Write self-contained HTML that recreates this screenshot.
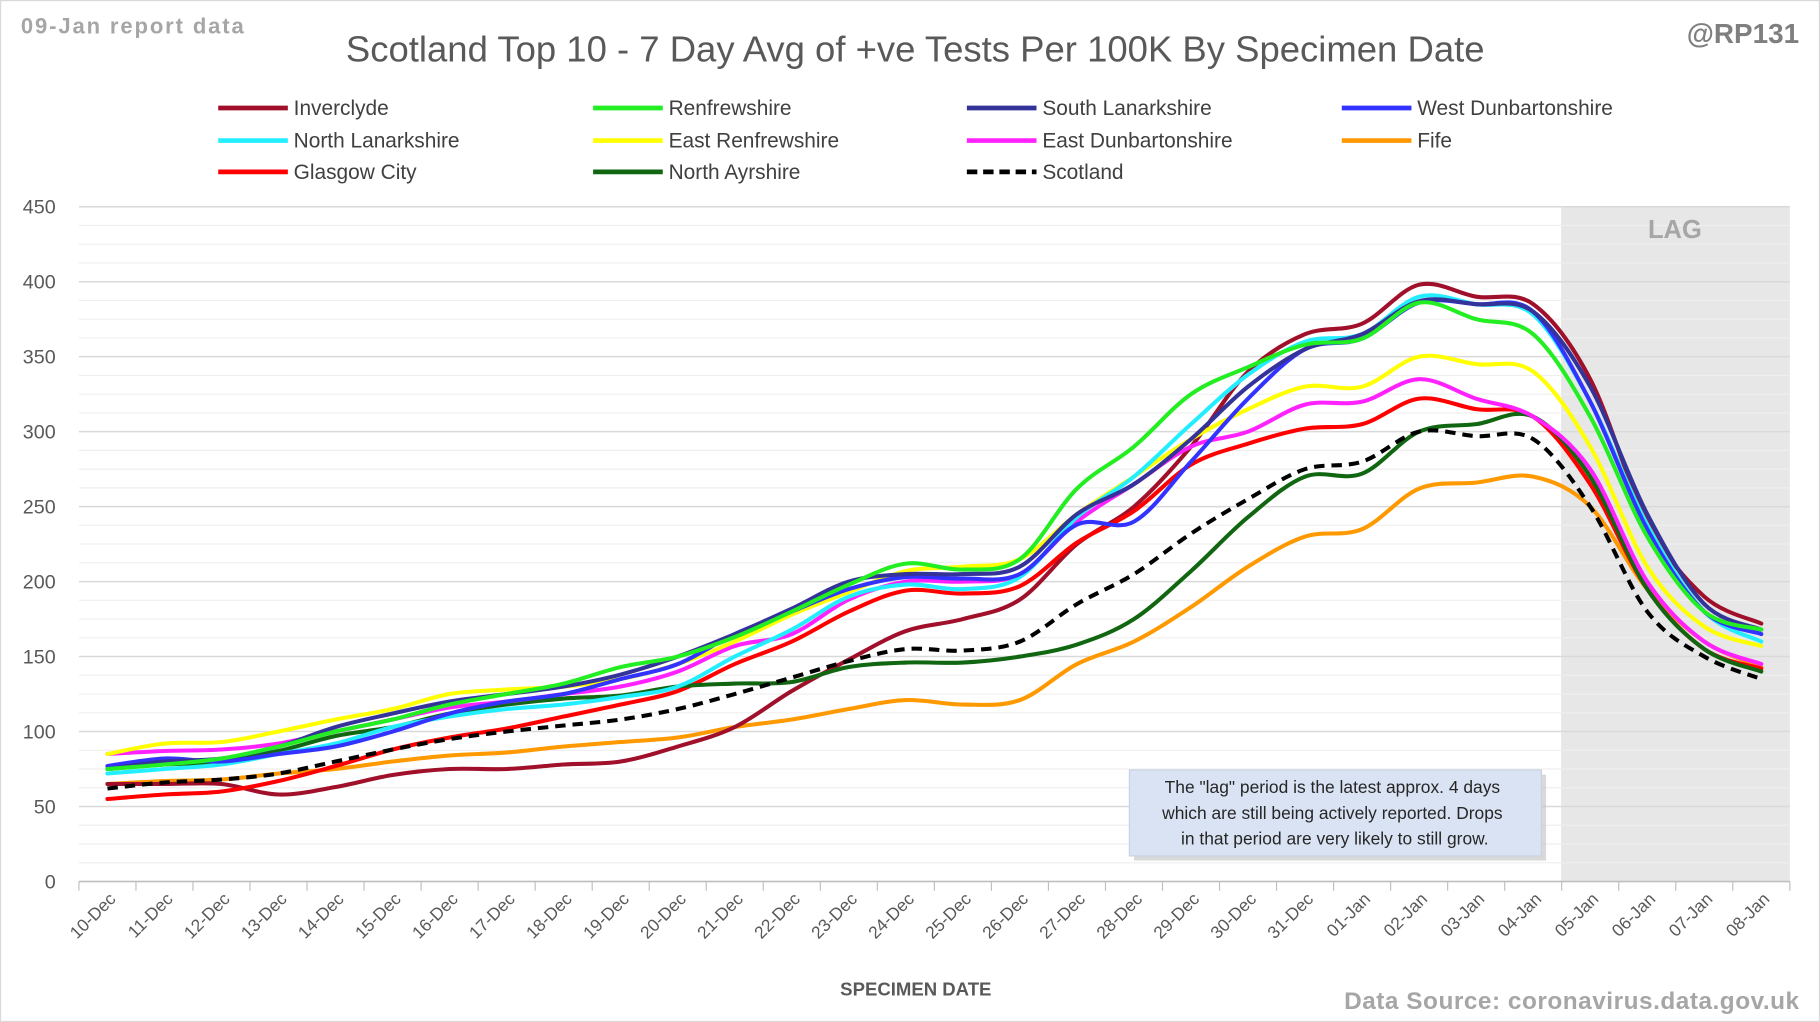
<!DOCTYPE html>
<html><head><meta charset="utf-8"><style>
html,body{margin:0;padding:0;background:#fff}
svg{display:block}
text{font-family:"Liberation Sans",sans-serif}
</style></head><body>
<svg id="s" width="1820" height="1022" viewBox="0 0 1568 880" preserveAspectRatio="none" xmlns="http://www.w3.org/2000/svg">
<rect x="0.5" y="0.5" width="1567" height="879" fill="#fff" stroke="#d9d9d9"/>
<rect x="1345" y="178" width="197" height="581" fill="#e7e7e7"/>
<g id="grid"></g>
<text x="1443" y="205" text-anchor="middle" font-size="22" font-weight="bold" fill="#a6a6a6">LAG</text>
<text x="18" y="29" font-size="19" font-weight="bold" fill="#a6a6a6" textLength="192">09-Jan report data</text>
<text x="298" y="53" font-size="31" fill="#595959" textLength="981" lengthAdjust="spacingAndGlyphs">Scotland Top 10 - 7 Day Avg of +ve Tests Per 100K By Specimen Date</text>
<text x="1550" y="37" text-anchor="end" font-size="24" font-weight="bold" fill="#7f7f7f">@RP131</text>
<g id="legend" font-size="18" fill="#404040"></g>
<g id="ylab" font-size="17" fill="#595959" text-anchor="end"></g>
<g id="xlab" font-size="15" fill="#595959" text-anchor="end"></g>
<g id="series" fill="none" stroke-width="3.5" stroke-linejoin="round" stroke-linecap="round"></g>
<rect x="977" y="667" width="355" height="74" fill="#bfbfbf" opacity="0.6"/>
<rect x="973" y="663" width="355" height="74" fill="#dae3f3" stroke="#c8d2e4"/>
<text font-size="15" fill="#262626" text-anchor="middle">
<tspan x="1150" y="683">The "lag" period is the latest approx. 4 days</tspan>
<tspan x="1150" y="705">which are still being actively reported.  Drops</tspan>
<tspan x="1150" y="727">in that period are very likely to still grow.</tspan></text>
<text x="789" y="857" text-anchor="middle" font-size="16" font-weight="bold" fill="#595959">SPECIMEN DATE</text>
<text x="1550" y="869" text-anchor="end" font-size="21" font-weight="bold" fill="#a6a6a6" textLength="392">Data Source: coronavirus.data.gov.uk</text>
</svg>
<script>
var NS="http://www.w3.org/2000/svg";
function el(p,t,a,txt){var e=document.createElementNS(NS,t);for(var k in a)e.setAttribute(k,a[k]);if(txt!=null)e.textContent=txt;document.getElementById(p).appendChild(e);return e;}
var X0=68,X1=1542,W=(X1-X0)/30,Y0=759,K=581/450;
function px(i){return X0+W*(i+0.5)} function py(v){return Y0-v*K}
for(var v=0;v<=450;v+=12.5){var y=py(v);var major=(v%50==0);
 el("grid","line",{x1:X0,x2:X1,y1:y,y2:y,stroke:major?"#d9d9d9":"#efefef","stroke-width":major?1.3:1});
 if(major)el("ylab","text",{x:48,y:y+6},String(v));}
el("grid","line",{x1:X0,x2:X1,y1:Y0,y2:Y0,stroke:"#bfbfbf","stroke-width":1.3});
var days=[];for(var d=10;d<=31;d++)days.push(d+"-Dec");for(var d=1;d<=8;d++)days.push("0"+d+"-Jan");
for(var i=0;i<=30;i++){var x=X0+W*i;el("grid","line",{x1:x,x2:x,y1:Y0,y2:Y0+8,stroke:"#bfbfbf"});}
days.forEach(function(t,i){var x=px(i)+8,y=775;el("xlab","text",{x:x,y:y,transform:"rotate(-45 "+x+" "+y+")"},t);});
var S=[
["Inverclyde","#a0102a",[65,65,65,58,63,71,75,75,78,80,90,103,127,148,167,175,188,225,250,290,340,365,372,398,390,385,335,240,190,172]],
["Renfrewshire","#22ee22",[75,78,82,90,100,108,118,125,132,143,150,163,180,198,212,208,215,262,290,325,343,358,362,386,375,365,310,230,180,168]],
["South Lanarkshire","#333399",[75,80,82,90,103,112,120,125,130,138,150,165,182,200,205,205,210,245,265,295,330,355,365,387,385,380,330,245,185,168]],
["West Dunbartonshire","#3333ff",[77,82,80,85,90,100,112,120,125,135,145,165,180,195,203,202,205,238,240,280,322,355,362,386,385,380,320,235,180,165]],
["North Lanarkshire","#22eeff",[72,75,78,85,92,103,110,115,118,123,130,150,168,190,198,195,203,243,270,305,338,360,365,390,385,378,320,238,180,160]],
["East Renfrewshire","#ffff00",[85,92,93,100,108,115,125,128,130,135,145,160,178,193,207,210,215,245,270,295,315,330,330,350,345,340,290,210,170,157]],
["East Dunbartonshire","#ff22ff",[85,87,88,92,100,108,116,120,125,130,140,157,165,188,200,200,205,240,265,290,300,318,320,335,322,310,275,200,160,145]],
["Fife","#ff9900",[65,67,68,72,75,80,84,86,90,93,96,103,108,115,121,118,121,145,160,183,210,230,235,262,266,270,250,195,160,143]],
["Glasgow City","#ff0000",[55,58,60,67,77,88,96,102,110,118,127,145,160,180,194,192,197,226,247,278,292,302,305,322,315,310,265,195,155,142]],
["North Ayrshire","#116611",[75,78,80,87,97,103,112,118,122,124,130,132,133,143,146,146,150,158,175,207,243,270,272,300,305,310,270,195,155,140]],
["Scotland","#000000",[62,66,68,72,80,88,95,100,104,108,115,125,136,147,155,154,160,185,205,232,255,275,280,300,297,295,250,180,150,135]]];
function path(d){var p=d.map(function(v,i){return[px(i),py(v)]});var s="M"+p[0][0]+","+p[0][1];
 for(var i=0;i<p.length-1;i++){var a=p[i-1]||p[i],b=p[i],c=p[i+1],e=p[i+2]||c;
 s+="C"+(b[0]+(c[0]-a[0])/6)+","+(b[1]+(c[1]-a[1])/6)+" "+(c[0]-(e[0]-b[0])/6)+","+(c[1]-(e[1]-b[1])/6)+" "+c[0]+","+c[1];}return s;}
var order=[7,0,8,9,6,5,4,3,2,1,10];
order.forEach(function(k){var s=S[k];var a={d:path(s[2]),stroke:s[1]};if(k==10){a["stroke-dasharray"]="9,6";a["stroke-linecap"]="butt";}el("series","path",a);});
var cols=[188,511,833,1156],rows=[93,121,148];
S.forEach(function(s,i){var c=cols[i%4],r=rows[Math.floor(i/4)];
 var a={x1:c,x2:c+60,y1:r,y2:r,stroke:s[1],"stroke-width":4};if(i==10){a["stroke-dasharray"]="9,5";}
 el("legend","line",a);el("legend","text",{x:c+65,y:r+6},s[0]);});
</script>
</body></html>
